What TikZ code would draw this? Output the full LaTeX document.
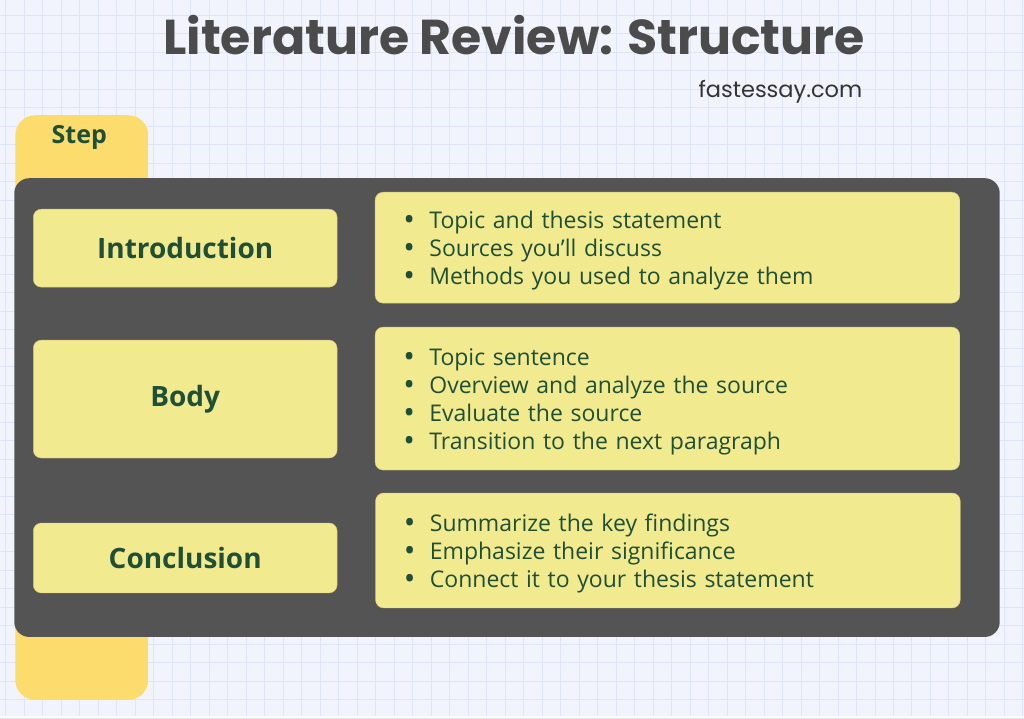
\documentclass[tikz,border=0pt]{standalone}
\usepackage{fontspec}
\setmainfont{Open Sans}
\newfontfamily\titlefont{Poppins}
\usepackage{xcolor}
\usepackage{graphicx}
\definecolor{pagebg}{HTML}{F1F4FD}
\definecolor{gridline}{HTML}{DEE5F8}
\definecolor{panelgrey}{HTML}{545454}
\definecolor{boxyellow}{HTML}{F2EA8F}
\definecolor{tabyellow}{HTML}{FBDC6C}
\definecolor{textgreen}{HTML}{1F4F37}
\definecolor{titlegrey}{HTML}{4B4B4B}
\usetikzlibrary{positioning}

\newcommand{\bulletlines}[1]{%
    \setlength{\baselineskip}{28pt}%
    #1}
\newcommand{\itm}[1]{\makebox[26pt][l]{\smash{\raisebox{-2.2pt}{\scalebox{1.35}{\textbullet}}}}#1\par}

\begin{document}
\begin{tikzpicture}[
        x=1pt, y=-1pt,
        tab_node/.style={
            rectangle,
            rounded corners=20pt,
            fill=tabyellow,
            minimum width=133pt,
            minimum height=585pt,
            inner sep=0pt
        },
        panel_node/.style={
            rectangle,
            rounded corners=15pt,
            fill=panelgrey,
            minimum width=986pt,
            minimum height=459pt,
            inner sep=0pt
        },
        step_node/.style={
            rectangle,
            rounded corners=8pt,
            fill=boxyellow,
            draw=boxyellow!85!black,
            line width=0.4pt,
            minimum width=304pt,
            inner sep=0pt,
            text=textgreen,
            font=\fontsize{28}{30}\selectfont\bfseries
        },
        list_node/.style={
            rectangle,
            rounded corners=8pt,
            fill=boxyellow,
            draw=boxyellow!85!black,
            line width=0.4pt,
            minimum width=585pt,
            inner sep=0pt
        },
        list_text/.style={
            anchor=west,
            align=left,
            text width=555pt,
            text=textgreen,
            font=\fontsize{23}{28}\selectfont
        }
    ]

    % Background with grid
    \fill[pagebg] (0,0) rectangle (1024,716);
    \foreach \gx in {0,...,55} {
        \draw[gridline, line width=0.6pt] (5.5+18.5*\gx,0) -- (5.5+18.5*\gx,716);
    }
    \foreach \gy in {0,...,38} {
        \draw[gridline, line width=0.6pt] (0,15+18.5*\gy) -- (1024,15+18.5*\gy);
    }
    \useasboundingbox (0,0) rectangle (1024,716);

    % Title
    \node[font=\titlefont\fontsize{49}{54}\selectfont\bfseries, text=titlegrey] (title) at (514,35) {Literature Review: Structure};
    \node[font=\titlefont\fontsize{22.5}{26}\selectfont, text=black!80, anchor=east] (site) at (866,92) {fastessay.com};

    % Step tab and dark panel
    \node[tab_node] (tab) at (81.5,407.5) {};
    \node[font=\fontsize{25}{28}\selectfont\bfseries, text=textgreen] (steplabel) at (79,137) {Step};
    \node[panel_node] (panel) at (507,407.5) {};

    % Left column
    \node[step_node, minimum height=78pt] (intro) at (185,248) {Introduction};
    \node[step_node, minimum height=118pt] (body) at (185,399) {Body};
    \node[step_node, minimum height=70pt] (concl) at (185,558) {Conclusion};

    % Right column
    \node[list_node, minimum height=111pt] (introlist) at (667.5,247.5) {};
    \node[list_node, minimum height=143pt] (bodylist) at (667.5,398.5) {};
    \node[list_node, minimum height=115pt] (concllist) at (668,550.5) {};

    \node[list_text] (introtext) at ([xshift=25pt,yshift=-3pt]introlist.west) {\bulletlines{%
        \itm{Topic and thesis statement}
        \itm{Sources you’ll discuss}
        \itm{Methods you used to analyze them}}};
    \node[list_text] (bodytext) at ([xshift=25pt,yshift=-3pt]bodylist.west) {\bulletlines{%
        \itm{Topic sentence}
        \itm{Overview and analyze the source}
        \itm{Evaluate the source}
        \itm{Transition to the next paragraph}}};
    \node[list_text] (concltext) at ([xshift=25pt,yshift=-3pt]concllist.west) {\bulletlines{%
        \itm{Summarize the key findings}
        \itm{Emphasize their significance}
        \itm{Connect it to your thesis statement}}};

\end{tikzpicture}
\end{document}
